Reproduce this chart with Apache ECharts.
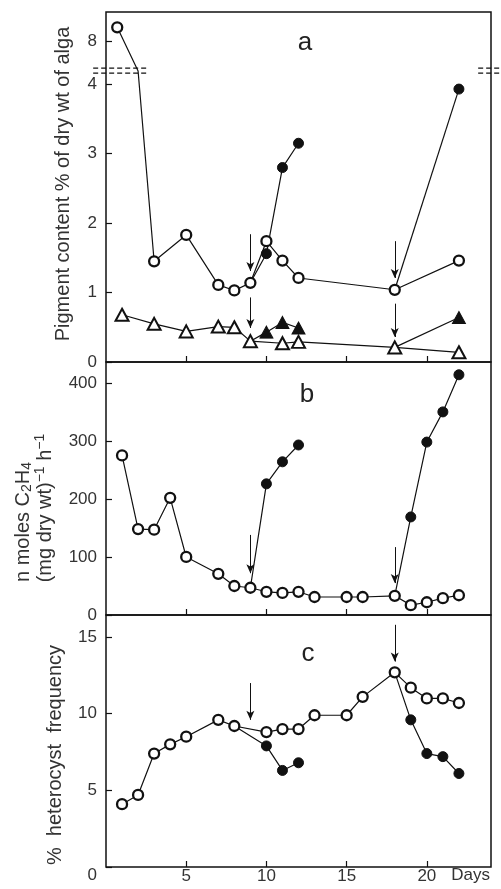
<!DOCTYPE html>
<html>
<head>
<meta charset="utf-8">
<script src="https://cdn.jsdelivr.net/npm/echarts@6.0.0/dist/echarts.min.js"></script>
<style>
html, body { margin: 0; padding: 0; background: #fff; }
#chart { width: 501px; height: 889px; }
</style>
</head>
<body>
<div id="chart"></div>
<script>
// 数据：a 色素含量, b 固氮活性, c 异形胞频率
var dayTicks = [5, 10, 15, 20];

var aOpenDays = [0.7, 2, 3, 5, 7, 8, 9, 10, 11, 12, 18, 22];
var aOpenVals = [8.2, 5.5, 1.45, 1.83, 1.11, 1.03, 1.14, 1.74, 1.46, 1.21, 1.04, 1.46];
var aClosed1Days = [9, 10, 11, 12];
var aClosed1Vals = [1.14, 1.56, 2.8, 3.15];
var aClosed2Days = [18, 22];
var aClosed2Vals = [1.04, 3.93];
var aTriDays = [1, 3, 5, 7, 8, 9, 11, 12, 18, 22];
var aTriVals = [0.68, 0.55, 0.44, 0.51, 0.5, 0.3, 0.27, 0.29, 0.21, 0.14];
var aTriClosed1Days = [9, 10, 11, 12];
var aTriClosed1Vals = [0.3, 0.43, 0.57, 0.49];
var aTriClosed2Days = [18, 22];
var aTriClosed2Vals = [0.21, 0.64];
var aTicks = [0, 1, 2, 3, 4, 8];

var bOpenDays = [1, 2, 3, 4, 5, 7, 8, 9, 10, 11, 12, 13, 15, 16, 18, 19, 20, 21, 22];
var bOpenVals = [275, 148, 147, 202, 100, 71, 50, 47, 40, 38, 40, 31, 31, 31, 33, 17, 22, 29, 34];
var bClosed1Days = [9, 10, 11, 12];
var bClosed1Vals = [47, 226, 264, 293];
var bClosed2Days = [18, 19, 20, 21, 22];
var bClosed2Vals = [33, 169, 298, 350, 414];
var bTicks = [0, 100, 200, 300, 400];

var cOpenDays = [1, 2, 3, 4, 5, 7, 8, 10, 11, 12, 13, 15, 16, 18, 19, 20, 21, 22];
var cOpenVals = [4.1, 4.7, 7.4, 8.0, 8.5, 9.6, 9.2, 8.8, 9.0, 9.0, 9.9, 9.9, 11.1, 12.7, 11.7, 11.0, 11.0, 10.7];
var cClosed1Days = [8, 10, 11, 12];
var cClosed1Vals = [9.2, 7.9, 6.3, 6.8];
var cClosed2Days = [18, 19, 20, 21, 22];
var cClosed2Vals = [12.7, 9.6, 7.4, 7.2, 6.1];
var cTicks = [0, 5, 10, 15];

// 箭头 [天, 起点, 终点]
var aArrows = [[9, 1.84, 1.31], [9, 0.93, 0.49], [18, 1.74, 1.21], [18, 0.84, 0.36]];
var bArrows = [[9, 138, 72], [18, 117, 55]];
var cArrows = [[9, 12.0, 9.6], [18, 15.8, 13.4]];

var INK = '#111';
var FONT = 'Liberation Sans';

var myChart = echarts.init(document.getElementById('chart'));

// 第一个点只作连线起点，不画符号
function pts(days, vals, hideIdx) {
    return days.map(function (d, i) {
        if (hideIdx.indexOf(i) >= 0) {
            return { value: [d, vals[i]], symbol: 'none' };
        }
        return [d, vals[i]];
    });
}

function lineSeries(idx, data, symbol, filled, z) {
    var tri = symbol === 'triangle';
    return {
        type: 'line',
        xAxisIndex: idx,
        yAxisIndex: idx,
        data: data,
        symbol: symbol,
        symbolSize: tri ? [13, 12] : 10,
        showAllSymbol: true,
        z: z,
        lineStyle: { color: INK, width: 1.2 },
        itemStyle: {
            color: filled ? INK : '#fff',
            borderColor: INK,
            borderWidth: filled ? 1 : (tri ? 2 : 2.3)
        },
        emphasis: { disabled: true },
        animation: false
    };
}

function arrowMark(arrows) {
    return {
        silent: true,
        symbol: ['none', 'arrow'],
        symbolSize: [6, 9],
        lineStyle: { color: INK, width: 1, type: 'solid' },
        label: { show: false },
        emphasis: { disabled: true },
        animation: false,
        data: arrows.map(function (a) {
            return [{ coord: [a[0], a[1]] }, { coord: [a[0], a[2]] }];
        })
    };
}

var grids = [
    { left: 106, right: 10, top: 12, height: 350 },
    { left: 106, right: 10, top: 362, height: 253 },
    { left: 106, right: 10, top: 615, height: 252 }
];
grids.forEach(function (g) {
    g.show = true;
    g.borderColor = INK;
    g.borderWidth = 1.5;
    g.backgroundColor = 'transparent';
});

function xAxisFor(idx) {
    var last = idx === 2;
    return {
        type: 'value',
        gridIndex: idx,
        min: 0,
        max: 24,
        axisLine: { show: false },
        splitLine: { show: false },
        axisTick: { show: true, inside: true, length: 6, customValues: dayTicks, lineStyle: { color: INK, width: 1.2 } },
        axisLabel: {
            show: last,
            customValues: dayTicks,
            margin: 1,
            fontFamily: FONT,
            fontSize: 17,
            color: '#333'
        },
        name: last ? 'Days' : '',
        nameLocation: 'end',
        nameGap: -1,
        nameTextStyle: {
            fontFamily: FONT,
            fontSize: 17,
            color: '#333',
            align: 'right',
            verticalAlign: 'top',
            padding: [0, 0, 0, 0]
        }
    };
}

function yAxisFor(idx, max, ticks, extra) {
    var ax = {
        type: 'value',
        gridIndex: idx,
        min: 0,
        max: max,
        axisLine: { show: false },
        splitLine: { show: false },
        axisTick: { show: true, inside: true, length: 6, customValues: ticks, lineStyle: { color: INK, width: 1.2 } },
        axisLabel: {
            customValues: ticks,
            margin: 9,
            fontFamily: FONT,
            fontSize: 17,
            color: '#333',
            formatter: function (v) {
                if (idx === 2 && v === 0) {
                    return '{lo|0}';
                }
                return String(v);
            },
            rich: {
                lo: { fontFamily: FONT, fontSize: 17, color: '#333', padding: [16, 0, 0, 0] }
            }
        }
    };
    return Object.assign(ax, extra || {});
}

var option = {
    backgroundColor: '#fff',
    animation: false,
    grid: grids,
    xAxis: [xAxisFor(0), xAxisFor(1), xAxisFor(2)],
    yAxis: [
        yAxisFor(0, 8.42, aTicks, {
            breaks: [{ start: 4.17, end: 7.6, gap: 0.05 }],
            breakArea: { show: false }
        }),
        yAxisFor(1, 436, bTicks),
        yAxisFor(2, 16.44, cTicks)
    ],
    series: [
        // a
        lineSeries(0, pts(aTriClosed1Days, aTriClosed1Vals, [0]), 'triangle', true, 2),
        lineSeries(0, pts(aTriClosed2Days, aTriClosed2Vals, [0]), 'triangle', true, 2),
        Object.assign(lineSeries(0, pts(aTriDays, aTriVals, []), 'triangle', false, 3), { markLine: arrowMark(aArrows) }),
        lineSeries(0, pts(aClosed1Days, aClosed1Vals, [0]), 'circle', true, 2),
        lineSeries(0, pts(aClosed2Days, aClosed2Vals, [0]), 'circle', true, 2),
        lineSeries(0, pts(aOpenDays, aOpenVals, [1]), 'circle', false, 3),
        // b
        lineSeries(1, pts(bClosed1Days, bClosed1Vals, [0]), 'circle', true, 2),
        lineSeries(1, pts(bClosed2Days, bClosed2Vals, [0]), 'circle', true, 2),
        Object.assign(lineSeries(1, pts(bOpenDays, bOpenVals, []), 'circle', false, 3), { markLine: arrowMark(bArrows) }),
        // c
        lineSeries(2, pts(cClosed1Days, cClosed1Vals, [0]), 'circle', true, 2),
        lineSeries(2, pts(cClosed2Days, cClosed2Vals, [0]), 'circle', true, 2),
        Object.assign(lineSeries(2, pts(cOpenDays, cOpenVals, []), 'circle', false, 3), { markLine: arrowMark(cArrows) })
    ]
};

myChart.setOption(option);

// 断轴标记、轴标题和分图字母
var yb = (myChart.convertToPixel({ yAxisIndex: 0 }, 4.17) + myChart.convertToPixel({ yAxisIndex: 0 }, 7.6)) / 2;
var xl1 = myChart.convertToPixel({ xAxisIndex: 0 }, -0.8);
var xl2 = myChart.convertToPixel({ xAxisIndex: 0 }, 2.6);
var xr1 = myChart.convertToPixel({ xAxisIndex: 0 }, 23.2);
var xr2 = myChart.convertToPixel({ xAxisIndex: 0 }, 24.6);

var graphics = [];
[-2.5, 2.5].forEach(function (off) {
    [[xl1, xl2], [xr1, xr2]].forEach(function (seg) {
        graphics.push({
            type: 'line',
            shape: { x1: seg[0], y1: yb + off, x2: seg[1], y2: yb + off },
            style: { stroke: INK, lineWidth: 1.2, lineDash: [5, 3] },
            silent: true
        });
    });
});

var NAME_SIZE = 20;
var nameRich = {
    n: { fontFamily: FONT, fontSize: NAME_SIZE, fill: '#333' },
    sub: { fontFamily: FONT, fontSize: 14, fill: '#333', padding: [9, 0, 0, 0] },
    sup: { fontFamily: FONT, fontSize: 14, fill: '#333', padding: [0, 0, 10, 0] }
};

function vText(x, y, text) {
    return {
        type: 'text',
        x: x,
        y: y,
        rotation: Math.PI / 2,
        silent: true,
        style: {
            text: text,
            fontFamily: FONT,
            fontSize: NAME_SIZE,
            fill: '#333',
            textAlign: 'center',
            textVerticalAlign: 'middle',
            rich: nameRich
        }
    };
}

graphics.push(vText(63, 184, 'Pigment content % of dry wt of alga'));
graphics.push(vText(23, 522, '{n|n moles C}{sub|2}{n|H}{sub|4}'));
graphics.push(vText(45, 508, '{n|(mg dry wt)}{sup|\u22121}{n| h}{sup|\u22121}'));
graphics.push(vText(55, 755, '%  heterocyst  frequency'));

[['a', 305, 43], ['b', 307, 395], ['c', 308, 654]].forEach(function (l) {
    graphics.push({
        type: 'text',
        x: l[1],
        y: l[2],
        silent: true,
        style: {
            text: l[0],
            fontFamily: FONT,
            fontSize: 26,
            fill: '#222',
            textAlign: 'center',
            textVerticalAlign: 'middle'
        }
    });
});

myChart.setOption({ graphic: graphics });

window.addEventListener('resize', function () {
    myChart.resize();
});
</script>
</body>
</html>
